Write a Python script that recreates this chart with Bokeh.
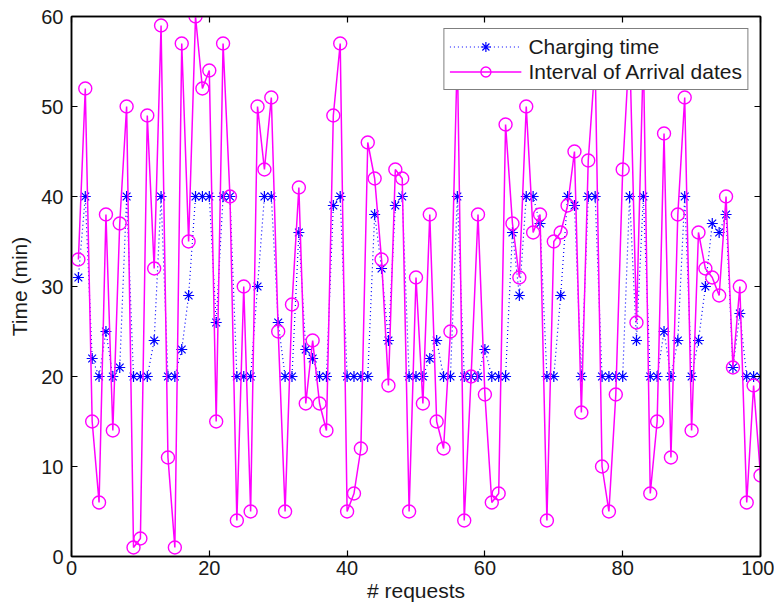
from bokeh.plotting import figure
from bokeh.models import Range1d, LinearAxis, FixedTicker, Legend, LegendItem
from bokeh.embed import file_html
from bokeh.resources import INLINE

# ---- data ----
requests = list(range(1, 101))

charging_time = [
    31, 40, 22, 20, 25, 20, 21, 40, 20, 20,
    20, 24, 40, 20, 20, 23, 29, 40, 40, 40,
    26, 40, 40, 20, 20, 20, 30, 40, 40, 26,
    20, 20, 36, 23, 22, 20, 20, 39, 40, 20,
    20, 20, 20, 38, 32, 24, 39, 40, 20, 20,
    20, 22, 24, 20, 20, 40, 20, 20, 20, 23,
    20, 20, 20, 36, 29, 40, 40, 37, 20, 20,
    29, 40, 39, 20, 40, 40, 20, 20, 20, 20,
    40, 24, 40, 20, 20, 25, 20, 24, 40, 20,
    24, 30, 37, 36, 38, 21, 27, 20, 20, 20,
]

arrival_interval = [
    33, 52, 15, 6, 38, 14, 37, 50, 1, 2,
    49, 32, 59, 11, 1, 57, 35, 60, 52, 54,
    15, 57, 40, 4, 30, 5, 50, 43, 51, 25,
    5, 28, 41, 17, 24, 17, 14, 49, 57, 5,
    7, 12, 46, 42, 33, 19, 43, 42, 5, 31,
    17, 38, 15, 12, 25, 56, 4, 20, 38, 18,
    6, 7, 48, 37, 31, 50, 36, 38, 4, 35,
    36, 39, 45, 16, 44, 55, 10, 5, 18, 43,
    57, 26, 56, 7, 15, 47, 11, 38, 51, 14,
    36, 32, 31, 29, 40, 21, 30, 6, 19, 9,
]

x_ticks = [0, 20, 40, 60, 80, 100]
y_ticks = [0, 10, 20, 30, 40, 50, 60]

FONT = "Liberation Sans"
BLUE = "#0000FF"
MAGENTA = "#FF00FF"
TEXT = "#1a1a1a"

p = figure(
    width=774, height=609,
    x_range=Range1d(0, 100), y_range=Range1d(0, 60),
    output_backend="svg", toolbar_location=None,
    min_border_left=71, min_border_right=14,
    min_border_top=16, min_border_bottom=53,
)
p.xgrid.visible = False
p.ygrid.visible = False
p.outline_line_color = "black"
p.outline_line_width = 1.5
p.background_fill_color = "white"
p.border_fill_color = "white"

# main axes
xa = p.xaxis[0]
ya = p.yaxis[0]
xa.ticker = FixedTicker(ticks=x_ticks)
ya.ticker = FixedTicker(ticks=y_ticks)
xa.axis_label = "# requests"
ya.axis_label = "Time (min)"
for ax in (xa, ya):
    ax.major_tick_in = 6
    ax.major_tick_out = 0
    ax.minor_tick_line_color = None
    ax.axis_line_color = "black"
    ax.axis_line_width = 1.5
    ax.major_tick_line_width = 1.2
    ax.major_label_text_font = FONT
    ax.major_label_text_font_size = "20px"
    ax.major_label_text_color = TEXT
    ax.axis_label_text_font = FONT
    ax.axis_label_text_font_size = "21px"
    ax.axis_label_text_font_style = "normal"
    ax.axis_label_text_color = TEXT
xa.major_label_standoff = 4
xa.axis_label_standoff = 1
ya.major_label_standoff = 8
ya.axis_label_standoff = 7

# mirrored tick marks on top and right (MATLAB box)
top_ax = LinearAxis(ticker=FixedTicker(ticks=x_ticks),
                    major_label_overrides={t: "" for t in x_ticks})
right_ax = LinearAxis(ticker=FixedTicker(ticks=y_ticks),
                      major_label_overrides={t: "" for t in y_ticks})
for ax in (top_ax, right_ax):
    ax.major_tick_in = 6
    ax.major_tick_out = 0
    ax.minor_tick_line_color = None
    ax.axis_line_color = "black"
    ax.axis_line_width = 1.5
    ax.major_tick_line_width = 1.2
    ax.major_label_standoff = 0
    ax.major_label_text_font_size = "1px"
p.add_layout(top_ax, "above")
p.add_layout(right_ax, "right")

# series
l1 = p.line(requests, charging_time, line_color=BLUE, line_dash="1 3", line_width=1.2)
s1 = p.scatter(requests, charging_time, marker="asterisk", size=11,
               line_color=BLUE, line_width=1.2)
l2 = p.line(requests, arrival_interval, line_color=MAGENTA, line_width=1.5)
s2 = p.scatter(requests, arrival_interval, marker="circle", size=13,
               line_color=MAGENTA, fill_color=None, line_width=1.4)

legend = Legend(
    items=[
        LegendItem(label="Charging time", renderers=[l1, s1]),
        LegendItem(label="Interval of Arrival dates", renderers=[l2, s2]),
    ],
    location="top_right",
    margin=12, padding=5, spacing=0,
    glyph_width=72, glyph_height=25, label_height=25,
    label_standoff=7,
    label_text_font=FONT, label_text_font_size="21px",
    label_text_color=TEXT,
    border_line_color="black", border_line_width=1.5,
    background_fill_color="white", background_fill_alpha=1.0,
)
p.add_layout(legend)

open("out.html", "w").write(file_html(p, INLINE))
